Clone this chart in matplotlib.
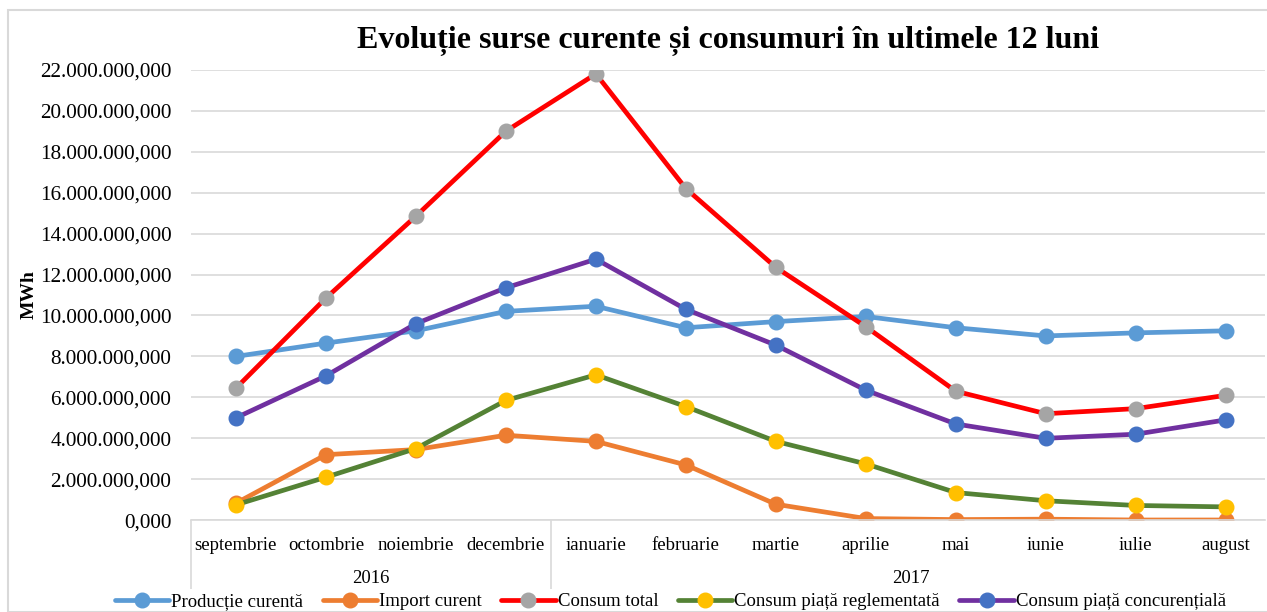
import numpy as np
import matplotlib.pyplot as plt
from matplotlib.ticker import FuncFormatter, FixedLocator
from matplotlib.transforms import blended_transform_factory

plt.rcParams['font.family'] = ['Liberation Serif', 'DejaVu Serif']

luni = ['septembrie', 'octombrie', 'noiembrie', 'decembrie', 'ianuarie', 'februarie',
        'martie', 'aprilie', 'mai', 'iunie', 'iulie', 'august']
ani = ['2016', '2017']
luni_pe_an = [4, 8]

# milioane MWh
productie = [8.0, 8.65, 9.25, 10.2, 10.45, 9.4, 9.7, 9.95, 9.4, 9.0, 9.15, 9.25]
import_cur = [0.83, 3.2, 3.45, 4.15, 3.85, 2.7, 0.78, 0.08, 0.03, 0.05, 0.01, 0.01]
consum_total = [6.45, 10.85, 14.85, 19.0, 21.8, 16.2, 12.35, 9.45, 6.3, 5.2, 5.45, 6.1]
reglementata = [0.75, 2.1, 3.5, 5.85, 7.1, 5.55, 3.85, 2.75, 1.35, 0.95, 0.72, 0.65]
concurentiala = [5.0, 7.05, 9.6, 11.35, 12.75, 10.3, 8.55, 6.35, 4.7, 4.0, 4.2, 4.9]

serii = [
    ('Producție curentă', productie, '#5B9BD5', '#5B9BD5'),
    ('Import curent', import_cur, '#ED7D31', '#ED7D31'),
    ('Consum total', consum_total, '#FF0000', '#A5A5A5'),
    ('Consum piață reglementată', reglementata, '#548235', '#FFC000'),
    ('Consum piață concurențială', concurentiala, '#7030A0', '#4472C4'),
]

fig = plt.figure(figsize=(12.67, 6.12), dpi=100)
ax = fig.add_axes([0.1507, 0.150, 0.848, 0.736])

x = np.arange(len(luni))
for nume, val, cl, cm in serii:
    ax.plot(x, np.array(val) * 1e6, color=cl, lw=3.4, marker='o', ms=10.5,
            mfc=cm, mec=cm, label=nume, solid_capstyle='round')

def fmt(v, pos):
    s = '{:,.3f}'.format(v)
    return s.replace(',', 'X').replace('.', ',').replace('X', '.')

ax.set_ylim(0, 22e6)
ax.set_yticks(np.arange(0, 22.1e6, 2e6))
ax.yaxis.set_major_formatter(FuncFormatter(fmt))
ax.set_xlim(-0.5, 11.44)
ax.set_xticks(x)
ax.set_xticklabels(luni)
ax.grid(axis='y', color='#D9D9D9', lw=1.2)
ax.set_axisbelow(True)
for s in ['top', 'right', 'left']:
    ax.spines[s].set_visible(False)
ax.spines['bottom'].set_color('#D9D9D9')
ax.spines['bottom'].set_linewidth(1.2)
ax.tick_params(axis='both', length=0, labelsize=13.5, colors='black')
ax.tick_params(axis='y', pad=14, labelsize=15.3)
ax.tick_params(axis='x', pad=12)

# separatoare intre ani
granite = np.concatenate([[0], np.cumsum(luni_pe_an)]) - 0.5
ax.xaxis.set_minor_locator(FixedLocator(granite))
ax.tick_params(axis='x', which='minor', length=50, width=1.2, color='#D9D9D9', direction='out')

tr = blended_transform_factory(ax.transData, ax.transAxes)
for i, an in enumerate(ani):
    mijloc = (granite[i] + granite[i + 1]) / 2
    ax.text(mijloc, -0.13, an, transform=tr, ha='center', va='center', fontsize=13.5)

ax.set_ylabel('MWh', fontsize=14, fontweight='bold')
ax.yaxis.set_label_coords(-0.143, 0.5)

fig.suptitle('Evoluție surse curente și consumuri în ultimele 12 luni',
             x=0.575, y=0.958, fontsize=23, fontweight='bold')

fig.legend(loc='center', bbox_to_anchor=(0.529, 0.017), ncol=5, frameon=False,
           fontsize=13.5, handlelength=2.9, handletextpad=0.1, columnspacing=1.05,
           borderaxespad=0)

fig.patches.append(plt.Rectangle((0.006, 0.0), 1.2, 0.983, transform=fig.transFigure,
                                 fill=False, ec='#D9D9D9', lw=1.5))

fig.savefig('out.png', dpi=100)
